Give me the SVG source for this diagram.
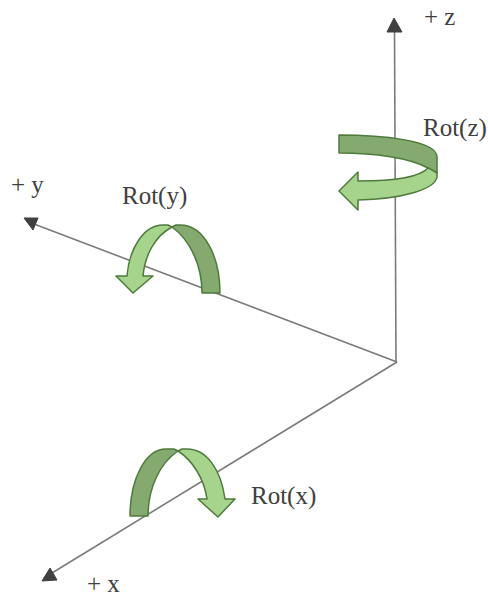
<svg xmlns="http://www.w3.org/2000/svg" width="488" height="598" viewBox="0 0 488 598">
<style>
.ax{stroke:#7b7b7b;stroke-width:1.6;fill:none}
.hd{fill:#404040;stroke:#404040;stroke-width:1;stroke-linejoin:round}
.dk{fill:#84aa70;stroke:#4e7a3c;stroke-width:1.5;stroke-linejoin:round}
.lt{fill:#a6d48c;stroke:#4e7a3c;stroke-width:1.5;stroke-linejoin:round}
text{font-family:"Liberation Serif","Times New Roman",serif;font-size:25px;fill:#404040}
</style>
<rect width="488" height="598" fill="#fff"/>
<g id="connectors">
<path class="ax" d="M396 362L394.500 30"/>
<path class="hd" d="M394 18L402 32H387Z"/>
<path class="ax" d="M397 362L34 224"/>
<path class="hd" d="M24 218L38 218L33 230Z"/>
<path class="ax" d="M397 362L52 573"/>
<path class="hd" d="M42 581L50 568L57 580Z"/>
</g>
<g id="rot-z">
<path class="dk" d="M339 135C380 135 437 140 437 157V173C433 171 431 169 428 168C410 158 375 153 339 153Z"/>
<path class="lt" d="M437 173V177C435 190 400 199 358 200V210L339 191L358 172V181C395 181 420 177 428 168C431 169 433 171 437 173Z"/>
<text x="423" y="136">Rot(z)</text>
</g>
<g id="rot-y">
<path class="dk" d="M172 227L176 225H180C205 225 220 258 220 293H202C202 265 190 240 172 227Z"/>
<path class="lt" d="M172 227C155 236 145 255 143 276H153L133 293L116 276H127C129 250 143 225 163 225H168Z"/>
<text x="122" y="204">Rot(y)</text>
</g>
<g id="rot-x">
<path class="dk" d="M178 451L174 449H166C145 449 130 480 130 516H148C148 488 160 463 178 451Z"/>
<path class="lt" d="M178 451C192 460 204 478 207 499H198L218 517L235 499H225C221 470 207 449 187 449H182Z"/>
<text x="251" y="504">Rot(x)</text>
</g>
<g id="axis-z"><text x="424" y="25">+ z</text></g>
<g id="axis-y"><text x="11" y="193">+ y</text></g>
<g id="axis-x"><text x="87" y="592">+ x</text></g>
</svg>
